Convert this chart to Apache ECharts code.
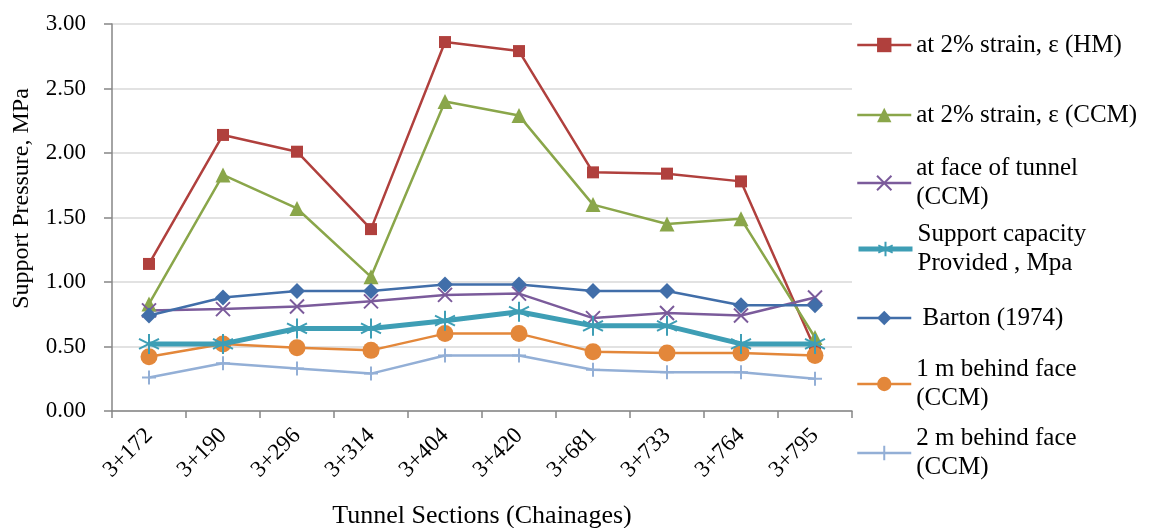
<!DOCTYPE html>
<html>
<head>
<meta charset="utf-8">
<script src="https://cdn.jsdelivr.net/npm/echarts@6/dist/echarts.min.js"></script>
<style>
  html, body { margin: 0; padding: 0; background: #fff; }
  #chart { width: 1152px; height: 528px; }
</style>
</head>
<body>
<div id="chart"></div>
<script>
// Chainages along the tunnel
const sections = ['3+172', '3+190', '3+296', '3+314', '3+404', '3+420', '3+681', '3+733', '3+764', '3+795'];

// Support pressure (MPa) per method
const strainHM   = [1.14, 2.14, 2.01, 1.41, 2.86, 2.79, 1.85, 1.84, 1.78, 0.48];
const strainCCM  = [0.83, 1.83, 1.57, 1.04, 2.40, 2.29, 1.60, 1.45, 1.49, 0.57];
const faceCCM    = [0.78, 0.79, 0.81, 0.85, 0.90, 0.91, 0.72, 0.76, 0.74, 0.88];
const supportCap = [0.52, 0.52, 0.64, 0.64, 0.70, 0.77, 0.66, 0.66, 0.52, 0.52];
const barton     = [0.74, 0.88, 0.93, 0.93, 0.98, 0.98, 0.93, 0.93, 0.82, 0.82];
const behind1m   = [0.42, 0.52, 0.49, 0.47, 0.60, 0.60, 0.46, 0.45, 0.45, 0.43];
const behind2m   = [0.26, 0.37, 0.33, 0.29, 0.43, 0.43, 0.32, 0.30, 0.30, 0.25];

const yTicks = { min: 0, max: 3, interval: 0.5 };

const FONT = '"Liberation Serif", "Times New Roman", serif';

// Stroke-only marker outlines
const X_PATH    = 'path://M0,0 L10,10 M10,0 L0,10';
const PLUS_PATH = 'path://M5,0 L5,10 M0,5 L10,5';
const STAR_PATH = 'path://M5,0 L5,10 M0.5,2.5 L9.5,7.5 M9.5,2.5 L0.5,7.5';

function lineSeries(name, data, color, opts) {
  const o = opts || {};
  return {
    name: name,
    type: 'line',
    data: data,
    symbol: o.symbol,
    symbolSize: o.symbolSize,
    showAllSymbol: true,
    z: o.z || 2,
    lineStyle: { color: color, width: o.width || 2.5 },
    itemStyle: o.stroke
      ? { color: 'rgba(0,0,0,0)', borderColor: color, borderWidth: o.strokeWidth || 2 }
      : { color: color, borderColor: color, borderWidth: 0 },
    emphasis: { disabled: true },
    animation: false
  };
}

const names = {
  hm: 'at 2% strain, ε (HM)',
  ccm: 'at 2% strain, ε (CCM)',
  face: 'at face of tunnel\n(CCM)',
  sup: 'Support capacity\nProvided , Mpa',
  bar: ' Barton (1974)',
  m1: '1 m behind face\n(CCM)',
  m2: '2 m behind face\n(CCM)'
};

// One legend block per series so each entry sits at its own height;
// two-line labels get top padding so the icon lines up with the first line.
const LH = 29;
function legendFor(name, centerY, lineWidth) {
  const twoLine = name.indexOf('\n') >= 0;
  return {
    data: [name],
    left: 856,
    top: centerY - (twoLine ? 1.5 * LH : 0.5 * LH),
    padding: 0,
    itemWidth: 54,
    itemHeight: 18,
    itemGap: 0,
    lineStyle: { width: lineWidth || 2.5 },
    textStyle: {
      fontFamily: FONT,
      fontSize: 25,
      color: '#000',
      lineHeight: LH,
      padding: twoLine ? [LH, 0, 0, 0] : 0
    }
  };
}

const chart = echarts.init(document.getElementById('chart'), null, { renderer: 'canvas' });

chart.setOption({
  backgroundColor: '#fff',
  animation: false,
  grid: { left: 112, right: 300, top: 24, bottom: 117, containLabel: false, outerBoundsMode: 'none' },
  legend: [
    legendFor(names.hm, 45),
    legendFor(names.ccm, 115),
    legendFor(names.face, 183),
    legendFor(names.sup, 249, 5),
    legendFor(names.bar, 318),
    legendFor(names.m1, 384),
    legendFor(names.m2, 453)
  ],
  xAxis: {
    type: 'category',
    data: sections,
    boundaryGap: true,
    name: 'Tunnel Sections (Chainages)',
    nameLocation: 'middle',
    nameGap: 92,
    nameTextStyle: { fontFamily: FONT, fontSize: 26, color: '#000' },
    axisLine: { lineStyle: { color: '#868686', width: 1.5 } },
    axisTick: { show: true, alignWithLabel: false, length: 7, lineStyle: { color: '#868686', width: 1.5 } },
    axisLabel: { rotate: 45, margin: 21, fontFamily: FONT, fontSize: 23, color: '#000', interval: 0 },
    splitLine: { show: false }
  },
  yAxis: {
    type: 'value',
    min: yTicks.min,
    max: yTicks.max,
    interval: yTicks.interval,
    name: 'Support Pressure, MPa',
    nameLocation: 'middle',
    nameGap: 78,
    nameRotate: 90,
    nameTextStyle: { fontFamily: FONT, fontSize: 24, color: '#000', padding: [0, 0, 0, 38] },
    axisLine: { show: true, lineStyle: { color: '#868686', width: 1.5 } },
    axisTick: { show: true, length: 8, lineStyle: { color: '#868686', width: 1.5 } },
    axisLabel: {
      fontFamily: FONT, fontSize: 23, color: '#000', margin: 26,
      formatter: v => v.toFixed(2)
    },
    splitLine: { show: true, lineStyle: { color: '#D9D9D9', width: 1.5 } }
  },
  series: [
    lineSeries(names.hm, strainHM, '#B0403D', { symbol: 'rect', symbolSize: 12 }),
    lineSeries(names.ccm, strainCCM, '#8AA64A', { symbol: 'triangle', symbolSize: 15 }),
    lineSeries(names.face, faceCCM, '#7B5B9B', { symbol: X_PATH, symbolSize: 14, stroke: true, strokeWidth: 2 }),
    lineSeries(names.sup, supportCap, '#3E9EB5', { symbol: STAR_PATH, symbolSize: 20, stroke: true, strokeWidth: 2, width: 5, z: 3 }),
    lineSeries(names.bar, barton, '#416EA9', { symbol: 'diamond', symbolSize: 16 }),
    lineSeries(names.m1, behind1m, '#E3873A', { symbol: 'circle', symbolSize: 17 }),
    lineSeries(names.m2, behind2m, '#93AFD6', { symbol: PLUS_PATH, symbolSize: 14, stroke: true, strokeWidth: 2 })
  ]
});
</script>
</body>
</html>
